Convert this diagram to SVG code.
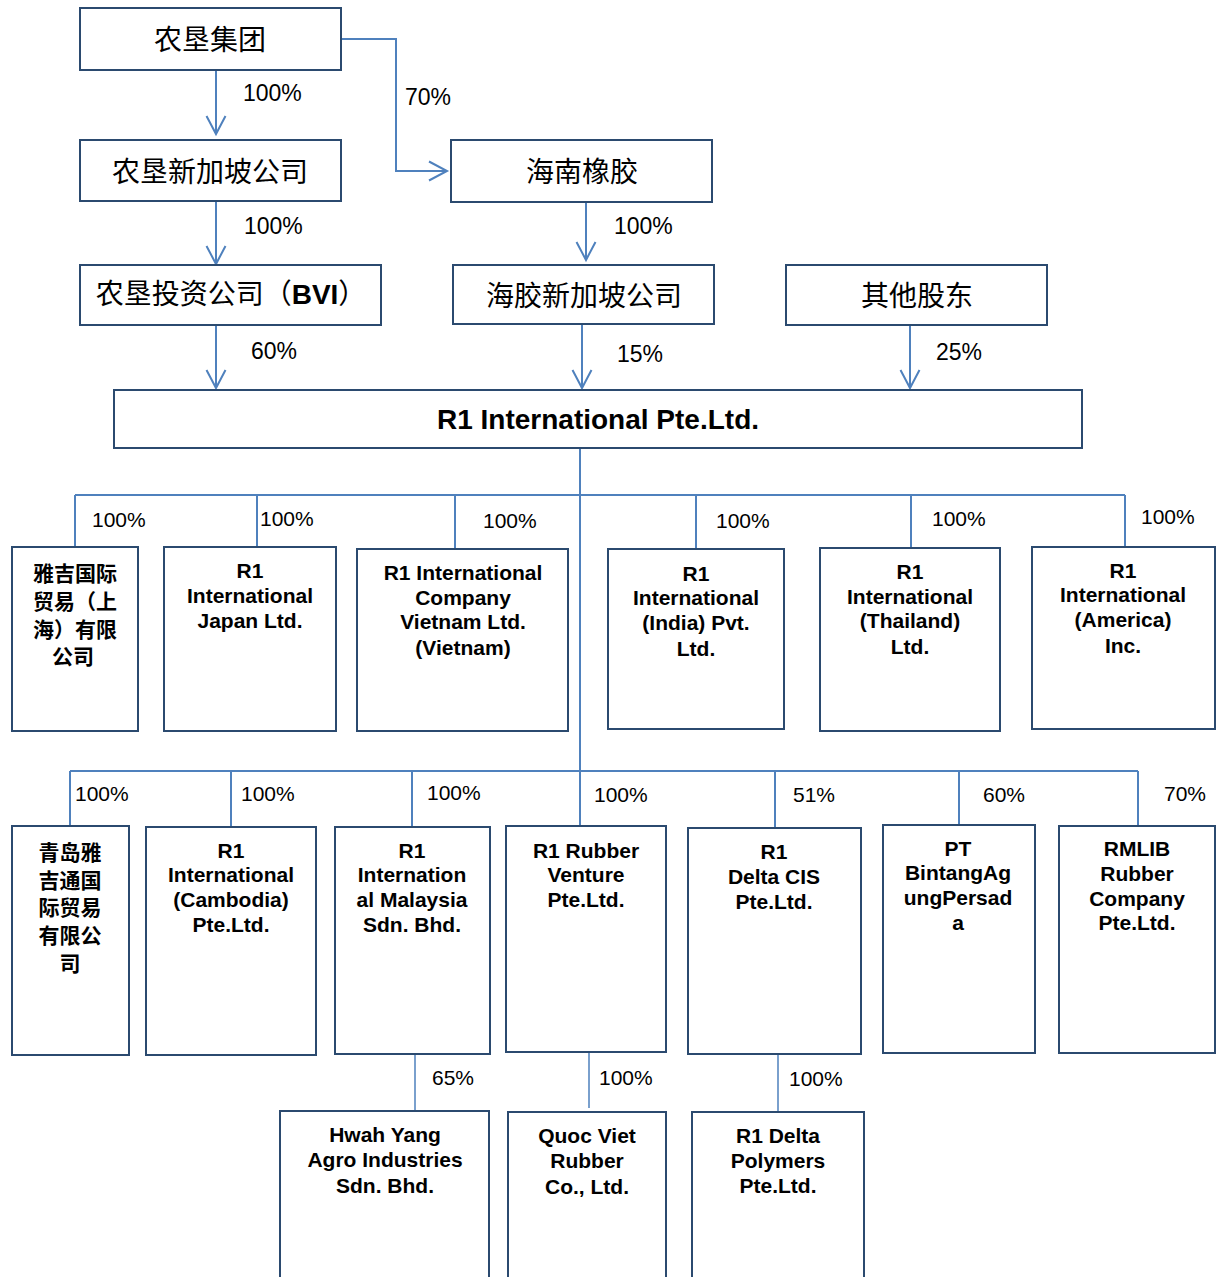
<svg xmlns="http://www.w3.org/2000/svg" width="1218" height="1277" viewBox="0 0 1218 1277">
<style>
.box{fill:#fff;stroke:#2b4a6f;stroke-width:2}
.ln{fill:none;stroke:#4f81bd;stroke-width:2}
.ln2{fill:none;stroke:#4f81bd;stroke-width:1.5}
.pct{font-family:"Liberation Sans",Arial,sans-serif;font-size:21px;fill:#000;dominant-baseline:central}
.pl{font-size:23px}
.bt{font-family:"Liberation Sans",Arial,sans-serif;font-weight:bold;font-size:21px;fill:#000;text-anchor:middle;dominant-baseline:central}
.big{font-size:28px}
.cjk{font-family:"Noto Sans CJK SC",sans-serif;font-size:28px;fill:#000;text-anchor:middle;dominant-baseline:central}
.cjks{font-family:"Noto Sans CJK SC",sans-serif;font-weight:bold;font-size:21px;fill:#000;text-anchor:middle;dominant-baseline:central}
</style>
<defs>
<marker id="ah" markerUnits="userSpaceOnUse" markerWidth="24" markerHeight="24" viewBox="-21 -12 24 24" refX="0" refY="0" orient="auto">
<path d="M-18,-9.5 L0,0 L-18,9.5" fill="none" stroke="#4f81bd" stroke-width="2"/>
</marker>
</defs>
<rect width="1218" height="1277" fill="#fff"/>
<g id="connectors">
<path class="ln" d="M216,70 V134" marker-end="url(#ah)"/>
<path class="ln" d="M341,39 H396 V171 H447" marker-end="url(#ah)"/>
<path class="ln" d="M216,201 V264" marker-end="url(#ah)"/>
<path class="ln" d="M586,197 V260" marker-end="url(#ah)"/>
<path class="ln" d="M216,325 V388" marker-end="url(#ah)"/>
<path class="ln" d="M582,324 V388" marker-end="url(#ah)"/>
<path class="ln" d="M910,325 V388" marker-end="url(#ah)"/>
<path class="ln" d="M580,448 V826"/>
<path class="ln" d="M75,495 H1125"/>
<path class="ln" d="M75,495 V547 M257,495 V547 M455,495 V549 M696,495 V549 M911,495 V548 M1125,495 V547"/>
<path class="ln" d="M70,771 H1138"/>
<path class="ln" d="M70,771 V826 M231,771 V827 M412,771 V827 M775,771 V828 M959,771 V825 M1138,771 V826"/>
<path class="ln2" d="M415,1054 V1110 M589,1052 V1108 M778,1054 V1111"/>
<text class="pct pl" x="243" y="93">100%</text>
<text class="pct pl" x="405" y="97">70%</text>
<text class="pct pl" x="244" y="226">100%</text>
<text class="pct pl" x="614" y="226">100%</text>
<text class="pct pl" x="251" y="351">60%</text>
<text class="pct pl" x="617" y="354">15%</text>
<text class="pct pl" x="936" y="352">25%</text>
<text class="pct" x="92" y="519">100%</text>
<text class="pct" x="260" y="518">100%</text>
<text class="pct" x="483" y="520">100%</text>
<text class="pct" x="716" y="520">100%</text>
<text class="pct" x="932" y="518">100%</text>
<text class="pct" x="1141" y="516">100%</text>
<text class="pct" x="75" y="793">100%</text>
<text class="pct" x="241" y="793">100%</text>
<text class="pct" x="427" y="792">100%</text>
<text class="pct" x="594" y="794">100%</text>
<text class="pct" x="793" y="794">51%</text>
<text class="pct" x="983" y="794">60%</text>
<text class="pct" x="1164" y="793">70%</text>
<text class="pct" x="432" y="1077">65%</text>
<text class="pct" x="599" y="1077">100%</text>
<text class="pct" x="789" y="1078">100%</text>
</g>
<g id="n-nongken">
<rect class="box" x="80" y="8" width="261" height="62"/>
<text class="cjk" x="210" y="38">农垦集团</text>
</g>
<g id="n-nongken-sg">
<rect class="box" x="80" y="140" width="261" height="61"/>
<text class="cjk" x="210" y="170">农垦新加坡公司</text>
</g>
<g id="n-hainan">
<rect class="box" x="451" y="140" width="261" height="62"/>
<text class="cjk" x="582" y="170">海南橡胶</text>
</g>
<g id="n-bvi">
<rect class="box" x="80" y="265" width="301" height="60"/>
<text x="231" y="304" font-family="Noto Sans CJK SC,sans-serif" font-size="28" text-anchor="middle" fill="#000">农垦投资公司（<tspan font-family="Liberation Sans,Arial,sans-serif" font-weight="bold">BVI</tspan>）</text>
</g>
<g id="n-haijiao-sg">
<rect class="box" x="453" y="265" width="261" height="59"/>
<text class="cjk" x="584" y="294">海胶新加坡公司</text>
</g>
<g id="n-others">
<rect class="box" x="786" y="265" width="261" height="60"/>
<text class="cjk" x="917" y="294">其他股东</text>
</g>
<g id="n-r1">
<rect class="box" x="114" y="390" width="968" height="58"/>
<text class="bt big" x="598" y="419">R1 International Pte.Ltd.</text>
</g>
<g id="n-yaji-sh">
<rect class="box" x="12" y="547" width="126" height="184"/>
<text class="cjks" x="75"><tspan x="75" y="572">雅吉国际</tspan><tspan x="75" y="600">贸易（上</tspan><tspan x="75" y="628">海）有限</tspan><tspan x="73" y="655">公司</tspan></text>
</g>
<g id="n-japan">
<rect class="box" x="164" y="547" width="172" height="184"/>
<text class="bt"><tspan x="250" y="570">R1</tspan><tspan x="250" y="595">International</tspan><tspan x="250" y="620">Japan Ltd.</tspan></text>
</g>
<g id="n-vietnam">
<rect class="box" x="357" y="549" width="211" height="182"/>
<text class="bt"><tspan x="463" y="572">R1 International</tspan><tspan x="463" y="597">Company</tspan><tspan x="463" y="621">Vietnam Ltd.</tspan><tspan x="463" y="647">(Vietnam)</tspan></text>
</g>
<g id="n-india">
<rect class="box" x="608" y="549" width="176" height="180"/>
<text class="bt"><tspan x="696" y="573">R1</tspan><tspan x="696" y="597">International</tspan><tspan x="696" y="622">(India) Pvt.</tspan><tspan x="696" y="648">Ltd.</tspan></text>
</g>
<g id="n-thailand">
<rect class="box" x="820" y="548" width="180" height="183"/>
<text class="bt"><tspan x="910" y="571">R1</tspan><tspan x="910" y="596">International</tspan><tspan x="910" y="620">(Thailand)</tspan><tspan x="910" y="646">Ltd.</tspan></text>
</g>
<g id="n-america">
<rect class="box" x="1032" y="547" width="183" height="182"/>
<text class="bt"><tspan x="1123" y="570">R1</tspan><tspan x="1123" y="594">International</tspan><tspan x="1123" y="619">(America)</tspan><tspan x="1123" y="645">Inc.</tspan></text>
</g>
<g id="n-qingdao">
<rect class="box" x="12" y="826" width="117" height="229"/>
<text class="cjks"><tspan x="70" y="851">青岛雅</tspan><tspan x="70" y="879">吉通国</tspan><tspan x="70" y="906">际贸易</tspan><tspan x="70" y="934">有限公</tspan><tspan x="70" y="962">司</tspan></text>
</g>
<g id="n-cambodia">
<rect class="box" x="146" y="827" width="170" height="228"/>
<text class="bt"><tspan x="231" y="850">R1</tspan><tspan x="231" y="874">International</tspan><tspan x="231" y="899">(Cambodia)</tspan><tspan x="231" y="924">Pte.Ltd.</tspan></text>
</g>
<g id="n-malaysia">
<rect class="box" x="335" y="827" width="155" height="227"/>
<text class="bt"><tspan x="412" y="850">R1</tspan><tspan x="412" y="874">Internation</tspan><tspan x="412" y="899">al Malaysia</tspan><tspan x="412" y="924">Sdn. Bhd.</tspan></text>
</g>
<g id="n-rubber-venture">
<rect class="box" x="506" y="826" width="160" height="226"/>
<text class="bt"><tspan x="586" y="850">R1 Rubber</tspan><tspan x="586" y="874">Venture</tspan><tspan x="586" y="899">Pte.Ltd.</tspan></text>
</g>
<g id="n-delta-cis">
<rect class="box" x="688" y="828" width="173" height="226"/>
<text class="bt"><tspan x="774" y="851">R1</tspan><tspan x="774" y="876">Delta CIS</tspan><tspan x="774" y="901">Pte.Ltd.</tspan></text>
</g>
<g id="n-pt">
<rect class="box" x="883" y="825" width="152" height="228"/>
<text class="bt"><tspan x="958" y="848">PT</tspan><tspan x="958" y="872">BintangAg</tspan><tspan x="958" y="897">ungPersad</tspan><tspan x="958" y="922">a</tspan></text>
</g>
<g id="n-rmlib">
<rect class="box" x="1059" y="826" width="156" height="227"/>
<text class="bt"><tspan x="1137" y="848">RMLIB</tspan><tspan x="1137" y="873">Rubber</tspan><tspan x="1137" y="898">Company</tspan><tspan x="1137" y="922">Pte.Ltd.</tspan></text>
</g>
<g id="n-hwah-yang">
<rect class="box" x="280" y="1111" width="209" height="180"/>
<text class="bt"><tspan x="385" y="1134">Hwah Yang</tspan><tspan x="385" y="1159">Agro Industries</tspan><tspan x="385" y="1185">Sdn. Bhd.</tspan></text>
</g>
<g id="n-quoc-viet">
<rect class="box" x="508" y="1112" width="158" height="180"/>
<text class="bt"><tspan x="587" y="1135">Quoc Viet</tspan><tspan x="587" y="1160">Rubber</tspan><tspan x="587" y="1186">Co., Ltd.</tspan></text>
</g>
<g id="n-delta-polymers">
<rect class="box" x="692" y="1112" width="172" height="180"/>
<text class="bt"><tspan x="778" y="1135">R1 Delta</tspan><tspan x="778" y="1160">Polymers</tspan><tspan x="778" y="1185">Pte.Ltd.</tspan></text>
</g>
</svg>
